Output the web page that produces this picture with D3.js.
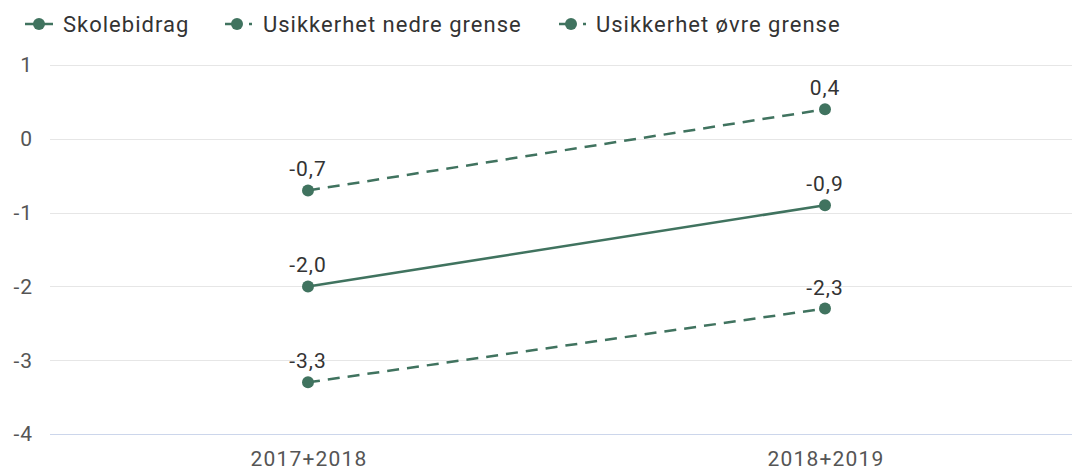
<!DOCTYPE html>
<html>
<head>
<meta charset="utf-8">
<script src="https://cdn.jsdelivr.net/npm/d3@7"></script>
<style>
  html, body { margin: 0; padding: 0; background: #fff; }
  svg { display: block; font-family: Roboto, "Noto Sans", sans-serif; }
</style>
</head>
<body>
<svg id="chart" width="1072" height="470"></svg>
<script>
// Data
const categories = ['2017+2018', '2018+2019']
const seriesNames = ['Skolebidrag', 'Usikkerhet nedre grense', 'Usikkerhet øvre grense']
const skolebidrag = [-2.0, -0.9]
const nedreGrense = [-3.3, -2.3]
const ovreGrense  = [-0.7, 0.4]
const yTicks = [1, 0, -1, -2, -3, -4]

const COLOR = '#40735f'
const WIDTH = 1072

const svg = d3.select('#chart')

const x = d3.scalePoint()
  .domain(categories)
  .range([308, 825])

const y = d3.scaleLinear()
  .domain([-4, 1])
  .range([434, 65])

const fmt = (v) => d3.format('.1f')(v).replace('.', ',').replace('−', '-')

// Grid lines and y labels
const grid = svg.append('g')
grid.selectAll('line')
  .data(yTicks)
  .enter().append('line')
  .attr('x1', 50)
  .attr('x2', WIDTH)
  .attr('y1', (d) => Math.round(y(d)) + 0.5)
  .attr('y2', (d) => Math.round(y(d)) + 0.5)
  .attr('stroke', (d) => d === -4 ? '#ccd6eb' : '#e6e6e6')
  .attr('stroke-width', 1)

grid.selectAll('text')
  .data(yTicks)
  .enter().append('text')
  .attr('x', 33)
  .attr('y', (d) => y(d))
  .attr('dy', '0.35em')
  .attr('text-anchor', 'end')
  .attr('fill', '#555')
  .attr('font-size', 21)
  .attr('letter-spacing', 1)
  .text((d) => String(d))

// x labels
svg.append('g').selectAll('text')
  .data(categories)
  .enter().append('text')
  .attr('x', (d) => x(d) + 1)
  .attr('y', 466)
  .attr('text-anchor', 'middle')
  .attr('fill', '#555')
  .attr('font-size', 21)
  .attr('letter-spacing', 1.2)
  .text((d) => d)

// Series
const series = [
  { name: seriesNames[0], values: skolebidrag, dash: null },
  { name: seriesNames[1], values: nedreGrense, dash: '12,8' },
  { name: seriesNames[2], values: ovreGrense, dash: '12,8' },
]

const line = d3.line()
  .x((d, i) => x(categories[i]))
  .y((d) => y(d))

const groups = svg.append('g').selectAll('g')
  .data(series)
  .enter().append('g')

groups.append('path')
  .attr('d', (s) => line(s.values))
  .attr('fill', 'none')
  .attr('stroke', COLOR)
  .attr('stroke-width', 2.5)
  .attr('stroke-dasharray', (s) => s.dash)

groups.selectAll('circle')
  .data((s) => s.values)
  .enter().append('circle')
  .attr('cx', (d, i) => x(categories[i]))
  .attr('cy', (d) => y(d))
  .attr('r', 6)
  .attr('fill', COLOR)

groups.selectAll('text')
  .data((s) => s.values)
  .enter().append('text')
  .attr('x', (d, i) => x(categories[i]))
  .attr('y', (d) => y(d) - 14)
  .attr('text-anchor', 'middle')
  .attr('fill', '#333')
  .attr('font-size', 21)
  .attr('letter-spacing', 1)
  .text((d) => fmt(d))

// Legend
const legendX = [25, 225, 559]
const legendTextX = [63, 263, 596]
const legend = svg.append('g').selectAll('g')
  .data(series)
  .enter().append('g')
  .attr('transform', (d, i) => `translate(${legendX[i]}, 24)`)

legend.append('line')
  .attr('x1', 0)
  .attr('x2', 28)
  .attr('y1', 0)
  .attr('y2', 0)
  .attr('stroke', COLOR)
  .attr('stroke-width', 2.5)
  .attr('stroke-dasharray', (s) => s.dash ? '16,8,3,20' : null)

legend.append('circle')
  .attr('cx', (s) => s.dash ? 12 : 14)
  .attr('cy', 0)
  .attr('r', 6)
  .attr('fill', COLOR)

legend.append('text')
  .attr('x', (s, i) => legendTextX[i] - legendX[i])
  .attr('y', 0)
  .attr('dy', '0.35em')
  .attr('fill', '#333')
  .attr('font-size', 22)
  .attr('letter-spacing', 1)
  .text((s) => s.name)
</script>
</body>
</html>
